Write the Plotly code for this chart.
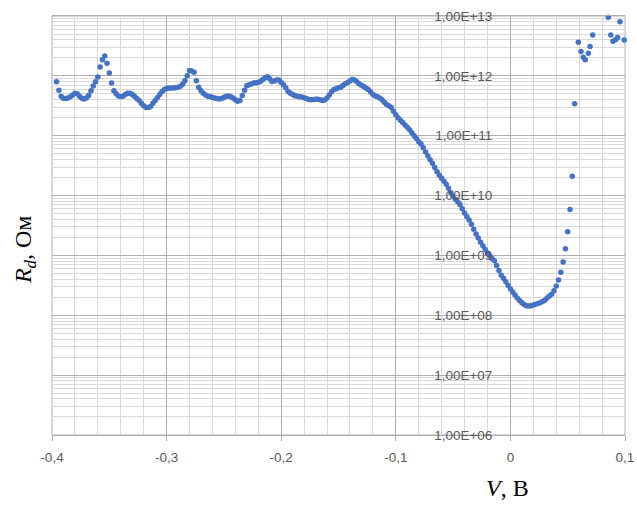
import plotly.graph_objects as go

voltage = [
    -0.396, -0.394, -0.392, -0.390, -0.388, -0.386, -0.384, -0.382, -0.380, -0.378,
    -0.376, -0.374, -0.372, -0.370, -0.368, -0.366, -0.364, -0.362, -0.360, -0.358,
    -0.356, -0.354, -0.352, -0.350, -0.348, -0.346, -0.344, -0.342, -0.340, -0.338,
    -0.336, -0.334, -0.332, -0.330, -0.328, -0.326, -0.324, -0.322, -0.320, -0.318,
    -0.316, -0.314, -0.312, -0.310, -0.308, -0.306, -0.304, -0.302, -0.300, -0.298,
    -0.296, -0.294, -0.292, -0.290, -0.288, -0.286, -0.284, -0.282, -0.280, -0.278,
    -0.276, -0.274, -0.272, -0.270, -0.268, -0.266, -0.264, -0.262, -0.260, -0.258,
    -0.256, -0.254, -0.252, -0.250, -0.248, -0.246, -0.244, -0.242, -0.240, -0.238,
    -0.236, -0.234, -0.232, -0.230, -0.228, -0.226, -0.224, -0.222, -0.220, -0.218,
    -0.216, -0.214, -0.212, -0.210, -0.208, -0.206, -0.204, -0.202, -0.200, -0.198,
    -0.196, -0.194, -0.192, -0.190, -0.188, -0.186, -0.184, -0.182, -0.180, -0.178,
    -0.176, -0.174, -0.172, -0.170, -0.168, -0.166, -0.164, -0.162, -0.160, -0.158,
    -0.156, -0.154, -0.152, -0.150, -0.148, -0.146, -0.144, -0.142, -0.140, -0.138,
    -0.136, -0.134, -0.132, -0.130, -0.128, -0.126, -0.124, -0.122, -0.120, -0.118,
    -0.116, -0.114, -0.112, -0.110, -0.108, -0.106, -0.104, -0.102, -0.100, -0.098,
    -0.096, -0.094, -0.092, -0.090, -0.088, -0.086, -0.084, -0.082, -0.080, -0.078,
    -0.076, -0.074, -0.072, -0.070, -0.068, -0.066, -0.064, -0.062, -0.060, -0.058,
    -0.056, -0.054, -0.052, -0.050, -0.048, -0.046, -0.044, -0.042, -0.040, -0.038,
    -0.036, -0.034, -0.032, -0.030, -0.028, -0.026, -0.024, -0.022, -0.020, -0.018,
    -0.016, -0.014, -0.012, -0.010, -0.008, -0.006, -0.004, -0.002, 0.000, 0.002,
    0.004, 0.006, 0.008, 0.010, 0.012, 0.014, 0.016, 0.018, 0.020, 0.022,
    0.024, 0.026, 0.028, 0.030, 0.032, 0.034, 0.036, 0.038, 0.040, 0.042,
    0.044, 0.046, 0.048, 0.050, 0.052, 0.054, 0.056,
    0.0593, 0.0616, 0.0636, 0.0653, 0.0680, 0.0695, 0.0718,
    0.0854, 0.0876, 0.0895, 0.0919, 0.0936, 0.0956, 0.0993,
]

resistance = [
    7.94e11, 5.75e11, 4.57e11, 4.22e11, 4.17e11, 4.27e11, 4.47e11, 4.79e11, 5.13e11, 5.01e11,
    4.57e11, 4.22e11, 4.12e11, 4.27e11, 4.68e11, 5.62e11, 6.76e11, 7.94e11, 9.55e11, 1.41e12,
    1.86e12, 2.14e12, 1.62e12, 1.12e12, 7.59e11, 5.62e11, 5.01e11, 4.62e11, 4.52e11, 4.57e11,
    4.90e11, 5.13e11, 5.13e11, 4.90e11, 4.57e11, 4.17e11, 3.89e11, 3.47e11, 3.16e11, 2.95e11,
    2.95e11, 3.09e11, 3.47e11, 3.89e11, 4.37e11, 4.90e11, 5.50e11, 5.89e11, 6.17e11, 6.24e11,
    6.24e11, 6.24e11, 6.31e11, 6.46e11, 6.68e11, 7.24e11, 8.32e11, 1.00e12, 1.23e12, 1.20e12,
    1.15e12, 8.32e11, 6.46e11, 5.62e11, 5.13e11, 4.79e11, 4.57e11, 4.52e11, 4.37e11, 4.27e11,
    4.17e11, 4.09e11, 4.17e11, 4.37e11, 4.57e11, 4.62e11, 4.47e11, 4.27e11, 3.98e11, 3.76e11,
    3.89e11, 4.68e11, 5.75e11, 6.84e11, 7.08e11, 7.33e11, 7.59e11, 7.67e11, 7.85e11, 8.13e11,
    8.71e11, 9.33e11, 9.66e11, 8.91e11, 8.04e11, 8.22e11, 8.51e11, 8.51e11, 7.76e11, 7.08e11,
    6.31e11, 5.50e11, 5.13e11, 4.90e11, 4.65e11, 4.57e11, 4.47e11, 4.42e11, 4.32e11, 4.17e11,
    4.03e11, 3.98e11, 4.03e11, 4.07e11, 4.07e11, 3.98e11, 3.89e11, 3.94e11, 4.27e11, 4.79e11,
    5.43e11, 5.89e11, 6.10e11, 6.31e11, 6.46e11, 6.92e11, 7.41e11, 7.76e11, 8.22e11, 8.71e11,
    8.51e11, 7.94e11, 7.41e11, 7.00e11, 6.61e11, 6.24e11, 5.89e11, 5.37e11, 4.90e11, 4.62e11,
    4.47e11, 4.27e11, 3.98e11, 3.63e11, 3.31e11, 3.16e11, 2.95e11, 2.57e11, 2.24e11, 2.00e11,
    1.82e11, 1.66e11, 1.51e11, 1.38e11, 1.26e11, 1.12e11, 1.00e11, 9.02e10, 7.94e10, 7.24e10,
    6.31e10, 5.37e10, 4.57e10, 3.98e10, 3.47e10, 2.95e10, 2.51e10, 2.19e10, 1.95e10, 1.74e10,
    1.55e10, 1.32e10, 1.12e10, 9.77e9, 8.71e9, 7.85e9, 7.08e9, 6.03e9, 5.13e9, 4.47e9,
    3.89e9, 3.31e9, 2.75e9, 2.29e9, 1.95e9, 1.66e9, 1.45e9, 1.26e9, 1.10e9, 9.77e8,
    8.91e8, 8.13e8, 6.76e8, 5.62e8, 4.68e8, 4.17e8, 3.63e8, 3.16e8, 2.75e8, 2.45e8,
    2.19e8, 1.95e8, 1.76e8, 1.62e8, 1.51e8, 1.45e8, 1.43e8, 1.45e8, 1.48e8, 1.53e8,
    1.58e8, 1.62e8, 1.70e8, 1.78e8, 1.95e8, 2.09e8, 2.24e8, 2.57e8, 3.09e8, 3.89e8,
    5.25e8, 7.76e8, 1.29e9, 2.48e9, 5.85e9, 2.10e10, 3.41e11,
    3.65e12, 2.56e12, 2.05e12, 1.85e12, 2.39e12, 3.08e12, 4.82e12,
    9.51e12, 4.82e12, 3.78e12, 4.06e12, 4.39e12, 8.04e12, 3.98e12,
]

x_tick_vals = [-0.4, -0.3, -0.2, -0.1, 0.0, 0.1]
x_tick_text = ["-0,4", "-0,3", "-0,2", "-0,1", "0", "0,1"]
y_tick_vals = [1e6, 1e7, 1e8, 1e9, 1e10, 1e11, 1e12, 1e13]
y_tick_text = ["1,00E+06", "1,00E+07", "1,00E+08", "1,00E+09",
               "1,00E+10", "1,00E+11", "1,00E+12", "1,00E+13"]

major_grid = "#AEAEAE"
minor_grid = "#D9D9D9"
tick_font = dict(family="Liberation Sans", size=13.5, color="#595959")

fig = go.Figure(go.Scatter(
    x=voltage, y=resistance, mode="markers",
    marker=dict(size=5.5, color="#4472C4"),
    cliponaxis=False,
))

fig.update_layout(
    width=637, height=506,
    autosize=False,
    margin=dict(l=52, r=12, t=16, b=71, pad=0, autoexpand=False),
    plot_bgcolor="white", paper_bgcolor="white",
    showlegend=False,
    xaxis=dict(
        range=[-0.4, 0.1], automargin=False,
        tickmode="array", tickvals=x_tick_vals, ticktext=x_tick_text,
        showgrid=True, gridcolor=major_grid, gridwidth=1,
        minor=dict(dtick=0.02, tick0=0, showgrid=True, gridcolor=minor_grid),
        zeroline=False,
        ticks="outside", ticklen=5, tickcolor=major_grid,
        tickfont=tick_font, ticklabelstandoff=5,
        showline=True, mirror=True, linecolor=major_grid,
    ),
    yaxis=dict(
        type="log", range=[6, 13], automargin=False,
        tickmode="array", tickvals=y_tick_vals, ticktext=y_tick_text,
        anchor="free", position=0.8,
        showgrid=True, gridcolor=major_grid, gridwidth=1,
        minor=dict(dtick="D1", showgrid=True, gridcolor=minor_grid),
        ticks="", zeroline=False, showline=False,
        tickfont=tick_font, ticklabelstandoff=18,
    ),
    shapes=[dict(type="rect", xref="paper", yref="paper", x0=0, x1=1, y0=0, y1=1,
                 line=dict(color=major_grid, width=1), layer="below")],
    annotations=[
        dict(text="<i>V</i>, В", xref="paper", yref="paper", x=0.795, y=-0.1265,
             showarrow=False, xanchor="center", yanchor="middle",
             font=dict(family="Liberation Serif", size=24, color="black")),
        dict(text="<i>R<sub>d</sub></i>, Ом", xref="paper", yref="paper", x=-0.047, y=0.4415,
             showarrow=False, xanchor="center", yanchor="middle", textangle=-90,
             font=dict(family="Liberation Serif", size=24, color="black")),
    ],
)

fig.write_html(
    "out.html",
    config={"displayModeBar": False, "responsive": False},
    post_script="document.body.style.margin='0px';document.body.style.overflow='hidden';",
)
